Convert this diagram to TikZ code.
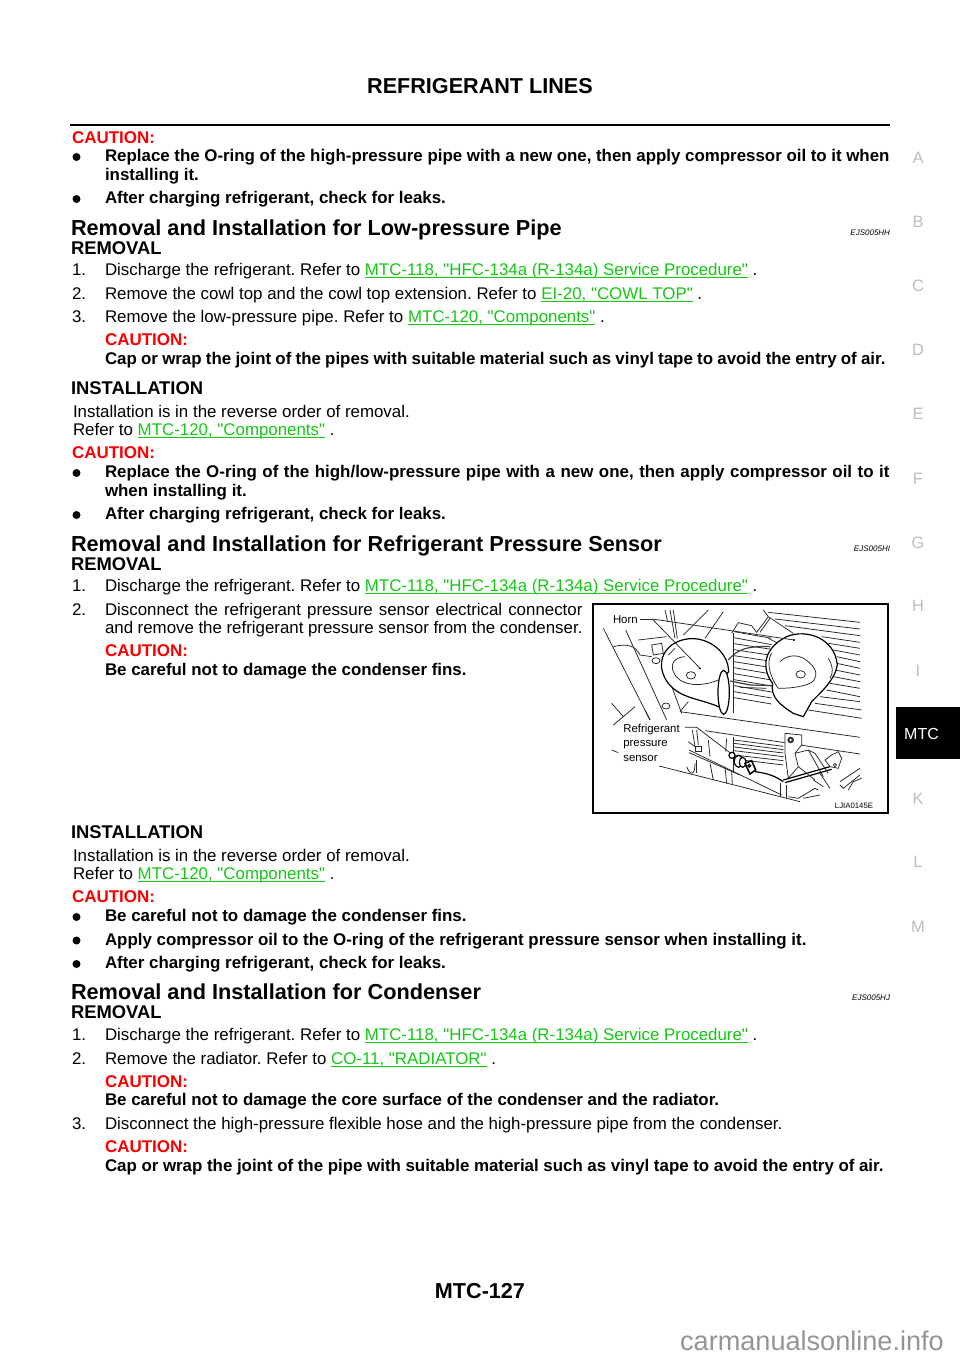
\documentclass[tikz,border=0pt]{standalone}
\usepackage{fontspec}
\setmainfont{Liberation Sans}[Ligatures=TeXOff]
\definecolor{lk}{RGB}{20,200,20}
\definecolor{cau}{RGB}{250,0,0}
\definecolor{side}{RGB}{190,190,190}
\newcommand\lnk[1]{{\color{lk}\setbox0=\hbox{#1}\rlap{\rule[-2.4pt]{\wd0}{0.9pt}}\box0}}
\newcommand\jst[2]{\hbox to #1pt{#2}}
\tikzset{
 txt/.style={anchor=base west,inner sep=0,outer sep=0,font=\fontsize{16.88}{18}\selectfont\frenchspacing},
 bld/.style={txt,font=\fontsize{16.9}{18}\selectfont\bfseries\frenchspacing},
 caut/.style={bld,text=cau,font=\fontsize{17}{18}\selectfont\bfseries},
 h1/.style={txt,font=\fontsize{21.7}{24}\selectfont\bfseries},
 h2/.style={txt,font=\fontsize{18.4}{20}\selectfont\bfseries},
 code/.style={anchor=base east,inner sep=0,outer sep=0,font=\fontsize{8}{9}\selectfont\itshape},
 sidel/.style={anchor=center,inner sep=0,text=side,font=\fontsize{16.5}{18}\selectfont},
 bul/.style={circle,fill=black,inner sep=0,minimum size=8pt},
 art/.style={line width=0.75pt,black!85},
 artb/.style={line width=1.2pt,black},
 lab/.style={anchor=base west,inner sep=0,outer sep=0,font=\fontsize{11.4}{12}\selectfont,text=black},
}
\begin{document}
\begin{tikzpicture}[x=1pt,y=-1pt]
\useasboundingbox (0,0) rectangle (960,1358);
\fill[white] (0,0) rectangle (960,1358);
\node[anchor=base,inner sep=0,font=\fontsize{21.6}{24}\selectfont\bfseries] (title) at (480,93) {REFRIGERANT LINES};
\coordinate (ruleL) at (70,125); \coordinate (ruleR) at (890,125);
\draw[line width=2.4pt] (ruleL) -- (ruleR);
% first block
\node[caut] (c0) at (72,143) {CAUTION:};
\node[bul] (b0) at (76.5,157) {};
\node[bld] (t01) at (105,161) {\jst{784.5}{Replace the O-ring of the high-pressure pipe with a new one, then apply compressor oil to it when}};
\node[bld] (t02) at (105,180) {installing it.};
\node[bul] (b1) at (76.5,199) {};
\node[bld] (t03) at (105,203.5) {After charging refrigerant, check for leaks.};
% low-pressure
\node[h1] (h11) at (71,235.5) {Removal and Installation for Low-pressure Pipe};
\node[code] (k1) at (890,235) {EJS005HH};
\node[h2] (r1) at (71,254) {REMOVAL};
\node[txt] (n1) at (72,275.5) {1.};
\node[txt] (s1) at (105,275.5) {Discharge the refrigerant. Refer to \lnk{MTC-118, "HFC-134a (R-134a) Service Procedure"} .};
\node[txt] (n2) at (72,299) {2.};
\node[txt] (s2) at (105,299) {Remove the cowl top and the cowl top extension. Refer to \lnk{EI-20, "COWL TOP"} .};
\node[txt] (n3) at (72,322) {3.};
\node[txt] (s3) at (105,322) {Remove the low-pressure pipe. Refer to \lnk{MTC-120, "Components"} .};
\node[caut] (c1) at (105,345.5) {CAUTION:};
\node[bld] (t11) at (105,364.5) {\jst{780.5}{Cap or wrap the joint of the pipes with suitable material such as vinyl tape to avoid the entry of air.}};
\node[h2] (i1) at (71,394) {INSTALLATION};
\node[txt] (t12) at (73,417) {Installation is in the reverse order of removal.};
\node[txt] (t13) at (73,435.5) {Refer to \lnk{MTC-120, "Components"} .};
\node[caut] (c2) at (72,458.5) {CAUTION:};
\node[bul] (b2) at (76.5,473) {};
\node[bld] (t14) at (105,477.5) {\jst{784.5}{Replace the O-ring of the high/low-pressure pipe with a new one, then apply compressor oil to it}};
\node[bld] (t15) at (105,496) {when installing it.};
\node[bul] (b3) at (76.5,515) {};
\node[bld] (t16) at (105,519.5) {After charging refrigerant, check for leaks.};
% sensor
\node[h1] (h12) at (71,551.5) {Removal and Installation for Refrigerant Pressure Sensor};
\node[code] (k2) at (890,551) {EJS005HI};
\node[h2] (r2) at (71,570) {REMOVAL};
\node[txt] (n4) at (72,591.5) {1.};
\node[txt] (s4) at (105,591.5) {Discharge the refrigerant. Refer to \lnk{MTC-118, "HFC-134a (R-134a) Service Procedure"} .};
\node[txt] (n5) at (72,615) {2.};
\node[txt] (s5) at (105,615) {\jst{477.5}{Disconnect the refrigerant pressure sensor electrical connector}};
\node[txt] (s6) at (105,633.5) {\jst{477.5}{and remove the refrigerant pressure sensor from the condenser.}};
\node[caut] (c3) at (105,656.5) {CAUTION:};
\node[bld] (t21) at (105,675) {Be careful not to damage the condenser fins.};
\node[h2] (i2) at (71,838) {INSTALLATION};
\node[txt] (t22) at (73,861) {Installation is in the reverse order of removal.};
\node[txt] (t23) at (73,879.5) {Refer to \lnk{MTC-120, "Components"} .};
\node[caut] (c4) at (72,902.5) {CAUTION:};
\node[bul] (b4) at (76.5,917) {};
\node[bld] (t24) at (105,921.5) {Be careful not to damage the condenser fins.};
\node[bul] (b5) at (76.5,940.5) {};
\node[bld] (t25) at (105,945) {Apply compressor oil to the O-ring of the refrigerant pressure sensor when installing it.};
\node[bul] (b6) at (76.5,964) {};
\node[bld] (t26) at (105,968.5) {After charging refrigerant, check for leaks.};
% condenser
\node[h1] (h13) at (71,999.5) {Removal and Installation for Condenser};
\node[code] (k3) at (890,1000) {EJS005HJ};
\node[h2] (r3) at (71,1018.5) {REMOVAL};
\node[txt] (n6) at (72,1040.5) {1.};
\node[txt] (s7) at (105,1040.5) {Discharge the refrigerant. Refer to \lnk{MTC-118, "HFC-134a (R-134a) Service Procedure"} .};
\node[txt] (n7) at (72,1064) {2.};
\node[txt] (s8) at (105,1064) {Remove the radiator. Refer to \lnk{CO-11, "RADIATOR"} .};
\node[caut] (c5) at (105,1087) {CAUTION:};
\node[bld] (t31) at (105,1105.5) {Be careful not to damage the core surface of the condenser and the radiator.};
\node[txt] (n8) at (72,1129) {3.};
\node[txt] (s9) at (105,1129) {Disconnect the high-pressure flexible hose and the high-pressure pipe from the condenser.};
\node[caut] (c6) at (105,1152) {CAUTION:};
\node[bld] (t32) at (105,1171) {\jst{778.5}{Cap or wrap the joint of the pipe with suitable material such as vinyl tape to avoid the entry of air.}};
% footer
\node[anchor=base,inner sep=0,font=\fontsize{21.6}{24}\selectfont\bfseries] (page) at (480,1298) {MTC-127};
\node[anchor=base east,inner sep=0,text=black!42,font=\fontsize{27.1}{28}\selectfont] (wm) at (944,1350) {carmanualsonline.info};
% side index
\foreach \l/\yy/\nm in {A/158/sa,B/222/sb,C/286/sc,D/350/sd,E/414/se,F/479/sf,G/543/sg,H/606/sh,I/671/si,K/799/sk,L/862/sl,M/927/sm}
  \node[sidel] (\nm) at (918,\yy) {\l};
\node[anchor=north west,inner sep=0,minimum width=64pt,minimum height=52pt,fill=black] (mtc) at (896,707) {};
\node[anchor=base west,inner sep=0,text=white,font=\fontsize{16}{18}\selectfont] (mtct) at (904,739) {MTC};
% illustration (coordinates in 3x crop units)
\begin{scope}[shift={(590,600)},x=0.3333pt,y=-0.3333pt]
\draw[line width=1.7pt] (10,12) rectangle (895,638);
% radiator fins, right of the right horn
\foreach \a/\b/\c/\d in {535/37/810/67,555/57/810/87,585/77/810/107,695/110/810/127,715/130/810/145,730/150/810/165,740/170/810/185,740/190/810/205,735/210/810/225,730/230/810/245,720/250/810/265,710/270/810/290,690/290/810/305,675/310/815/330,655/330/815/355}
  \draw[art] (\a,\b) -- (\c,\d);
% fins between the horns
\foreach \b/\c in {95/115,113/134,131/148,149/166,167/184,185/203,203/222,221/240,239/258,257/276,275/294,293/312}
  \draw[art] (432,\b) -- (545,\c);
% structure lines
\draw[art] (225,30) -- (233,65);
\draw[art] (240,30) -- (255,115);
\draw[art] (250,30) -- (262,115);
\draw[art] (355,30) -- (280,105);
\draw[art] (400,35) -- (345,115);
\draw[art] (40,85) -- (180,360);
\draw[art] (107,90) -- (230,360);
\draw[art] (240,245) -- (275,340);
\draw[art] (295,305) -- (270,335);
\draw[art] (145,120) -- (230,110);
\draw[art] (70,140) .. controls (110,130) and (135,135) .. (150,165) -- (185,170);
\draw[art,fill=white] (185,135) -- (215,130) -- (220,160) -- (190,165) -- cycle;
\draw[art] (198,182) ellipse (12 and 9);
\draw[art] (228,318) ellipse (12 and 9);
\draw[art] (65,310) -- (100,350) -- (135,320);
\draw[art] (100,350) -- (70,375);
\draw[art] (165,330) -- (180,360);
\draw[art] (430,100) -- (430,340);
\draw[art] (425,100) -- (445,68) -- (485,77) -- (500,97) -- (535,50) -- (520,30);
\draw[art] (510,97) -- (540,55);
\draw[art] (535,50) -- (610,100);
\draw[art] (270,335) -- (810,412);
\draw[art] (345,392) -- (810,462);
\draw[art] (535,115) -- (565,130);
% horn leaders
\coordinate (hornO) at (187,57);
\coordinate (hornA) at (330,205);
\coordinate (hornB) at (612,120);
\coordinate (hornS) at (150,57);
\draw[art] (hornS) -- (hornO);
% left horn
\draw[artb,fill=white] (395,325) .. controls (340,295) and (265,300) .. (228,240) .. controls (195,185) and (225,130) .. (285,118) .. controls (345,105) and (415,150) .. (416,215) -- (395,240) -- cycle;
\draw[artb,fill=white] (401,277) ellipse (17 and 66);
\draw[art] (285,170) .. controls (255,172) and (240,190) .. (250,215) .. controls (265,255) and (325,265) .. (385,240);
\draw[art] (235,165) -- (255,145);
\draw[art] (303,226) ellipse (14 and 11);
% wires
\draw[artb,black!75] (415,180) .. controls (440,150) and (470,137) .. (540,140);
\draw[artb,black!75] (420,243) -- (480,255) -- (560,257);
\draw[art] (450,262) -- (530,265);
% right horn
\draw[artb,fill=white] (640,350) -- (610,340) .. controls (570,315) and (540,290) .. (548,250) .. controls (520,215) and (510,150) .. (590,110) .. controls (650,85) and (735,115) .. (742,195) .. controls (735,240) and (690,280) .. (665,305) -- cycle;
\draw[art] (570,185) .. controls (590,165) and (630,155) .. (665,195) .. controls (685,215) and (680,240) .. (660,250) .. controls (630,263) and (590,265) .. (565,265) .. controls (535,225) and (530,180) .. (545,160);
\draw[art] (715,175) .. controls (730,200) and (730,220) .. (720,235);
\draw[art] (632,223) ellipse (14 and 11);
% leaders over the horns
\draw[art] (hornO) -- (hornA);
\draw[art] (hornO) -- (hornB);
\fill (hornA) circle (3.2);
\fill (hornB) circle (3.2);
% lower fins
\foreach \b/\c in {420/439,430/449,441/459,452/470,465/482,477/495}
  \draw[art] (432,\b) -- (580,\c);
\draw[art] (430,410) -- (430,520);
% bracket
\draw[art,fill=white] (585,400) -- (635,405) -- (635,435) -- (615,460) -- (625,500) -- (595,535) -- (585,460) -- cycle;
\fill[black!80] (602,420) circle (10);
\fill[white] (602,420) circle (4);
% engine bay
\draw[art] (297,450) -- (575,585);
\draw[art] (297,458) -- (450,525);
\draw[art] (207,498) -- (630,605);
\draw[art] (307,390) -- (315,440);
\draw[art] (320,390) -- (325,435);
\draw[art] (295,425) -- (315,440);
\draw[art] (315,438) -- (335,438) -- (335,455) -- (315,455) -- cycle;
\draw[art] (355,420) -- (360,470);
\draw[art] (290,500) .. controls (300,525) and (315,530) .. (315,490);
\draw[art] (320,480) -- (320,520);
\draw[art] (360,490) -- (370,540);
\draw[art] (405,500) -- (410,550);
\draw[art] (425,510) -- (427,555);
\draw[art] (410,415) -- (407,455);
\draw[art] (572,550) -- (572,590);
\draw[art] (590,555) -- (590,595);
% sensor leader and sensor
\coordinate (senS) at (285,382);
\coordinate (senO) at (320,382);
\coordinate (senE) at (425,462);
\draw[art] (senS) -- (senO) -- (senE);
\draw[artb,fill=white] (426,466) circle (9);
\draw[artb,fill=white] (446,484) ellipse (13 and 18);
\draw[artb,fill=white] (458,487) ellipse (10 and 15);
\draw[line width=1.6pt,fill=white] (465,490) -- (485,482) -- (497,510) -- (480,522) -- cycle;
\draw[artb] (478,497) circle (4);
\draw[artb] (495,515) .. controls (530,520) and (550,525) .. (580,545);
% pipe and fitting
\draw[artb] (580,540) -- (720,500);
\draw[artb] (585,548) -- (725,508);
\draw[art,fill=white] (705,480) -- (725,465) -- (745,455) -- (755,475) -- (745,505) -- (720,500) -- cycle;
\draw[art] (735,495) circle (5);
\draw[art] (655,450) -- (700,530);
\draw[art] (615,460) -- (655,450) -- (675,460) -- (715,520);
\draw[art] (625,500) -- (675,540);
\draw[art] (690,520) -- (720,565);
\draw[art] (670,540) -- (700,560);
\draw[art] (595,590) -- (625,595) -- (675,565) -- (685,570);
\draw[art] (640,595) -- (690,585);
\draw[art] (750,545) -- (810,505);
\draw[art] (750,555) -- (760,565) -- (810,525);
\draw[art] (775,570) -- (790,545) -- (815,535);
\draw[art] (65,450) -- (85,458);
\node[lab] (hornl) at (69,70) {Horn};
\node[lab] (refl) at (100,399) {Refrigerant};
\node[lab] (presl) at (100,441) {pressure};
\node[lab] (sensl) at (100,485) {sensor};
\node[anchor=base east,inner sep=0,font=\fontsize{7.8}{9}\selectfont] (lj) at (850,627) {LJIA0145E};
\end{scope}
\end{tikzpicture}
\end{document}
